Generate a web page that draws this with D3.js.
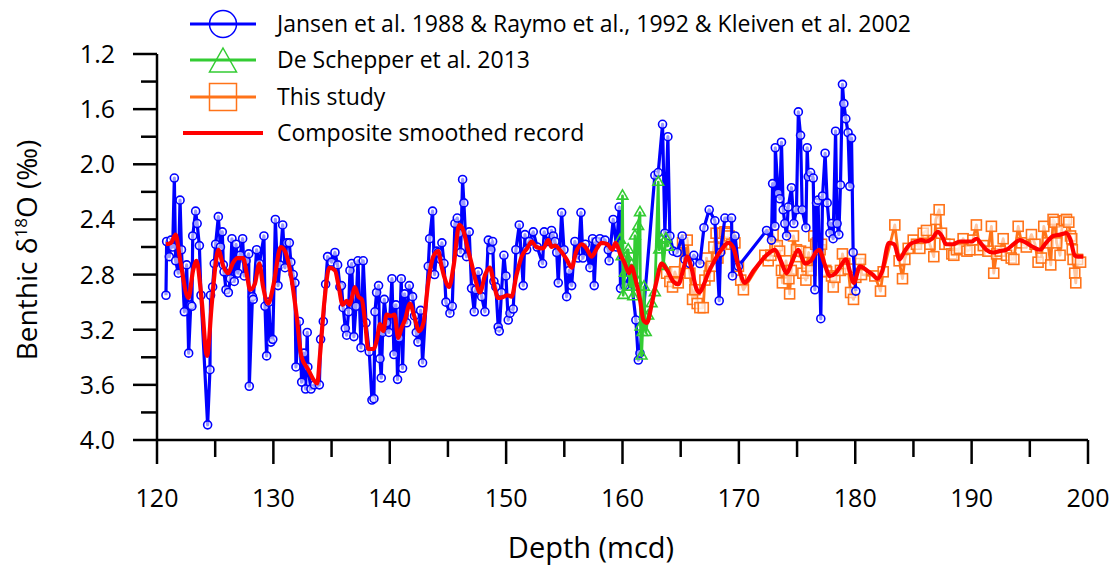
<!DOCTYPE html>
<html>
<head>
<meta charset="utf-8">
<script src="https://cdn.jsdelivr.net/npm/d3@7"></script>
<style>
  html, body { margin: 0; padding: 0; background: #fff; }
  svg { display: block; font-family: "Open Sans", sans-serif; }
</style>
</head>
<body>
<svg id="chart" width="1115" height="575"></svg>
<script>
// ---------- DATA ----------
const seriesNames = [
  "Jansen et al. 1988 & Raymo et al., 1992 & Kleiven et al. 2002",
  "De Schepper et al. 2013",
  "This study",
  "Composite smoothed record"
];
const xTicks = [120, 130, 140, 150, 160, 170, 180, 190, 200];
const yTicks = [1.2, 1.6, 2.0, 2.4, 2.8, 3.2, 3.6, 4.0];

// Jansen / Raymo / Kleiven: [depth, d18O]
const blueDepth = [120.77,120.83,121.06,121.2,121.35,121.49,121.6,121.83,121.98,122.1,122.35,122.55,122.72,122.9,123.0,123.07,123.32,123.45,123.64,123.78,124.35,124.55,124.6,124.78,124.92,125.04,125.27,125.45,125.61,125.7,125.76,125.93,126.13,126.3,126.44,126.64,126.79,126.96,127.15,127.36,127.5,127.65,127.88,127.93,128.2,128.27,128.56,128.8,129.19,129.28,129.42,129.6,129.79,129.95,130.17,130.4,130.55,130.8,131.0,131.14,131.37,131.5,131.7,131.85,131.94,132.23,132.43,132.63,132.77,132.91,132.96,133.23,133.52,133.95,134.06,134.29,134.49,134.66,135.0,135.29,135.52,135.72,135.85,136.0,136.18,136.3,136.46,136.58,136.73,136.92,137.1,137.27,137.53,137.72,137.96,138.24,138.47,138.64,138.73,138.87,139.04,139.16,139.27,139.39,139.53,139.73,139.93,140.19,140.36,140.53,140.67,140.82,140.99,141.1,141.28,141.45,141.68,141.96,142.13,142.28,142.42,142.65,142.82,143.31,143.43,143.68,143.85,144.03,144.17,144.37,144.48,144.66,144.83,145.17,145.37,145.6,145.8,145.95,146.09,146.26,146.37,146.6,146.83,147.03,147.26,147.4,147.6,147.9,148.18,148.47,148.69,148.84,148.95,149.12,149.32,149.41,149.6,149.81,149.98,150.18,150.33,150.61,150.84,151.13,151.47,151.62,151.76,151.99,152.33,152.67,153.13,153.27,153.53,153.7,153.9,154.05,154.2,154.35,154.48,154.77,154.97,155.2,155.42,155.63,155.91,156.2,156.43,156.6,156.8,157.2,157.43,157.57,157.75,158.06,158.5,158.78,158.85,159.2,159.49,159.72,159.83,160.2,160.7,161.15,161.36,161.5,162.78,163.07,163.44,163.64,163.9,164.07,164.36,164.7,165.13,165.36,165.79,166.13,166.65,167.0,167.45,167.94,168.31,168.42,168.8,169.37,169.45,169.67,169.96,172.38,172.8,172.9,173.1,173.13,173.38,173.52,173.66,173.81,173.95,174.1,174.24,174.52,174.72,174.95,175.11,175.3,175.44,175.76,175.87,175.96,176.16,176.39,176.53,176.67,176.8,177.04,177.19,177.41,177.59,177.82,177.96,178.1,178.31,178.44,178.59,178.73,178.9,179.02,179.19,179.38,179.53,179.68,179.82,180.05];
const blueValue = [2.95,2.56,2.67,2.55,2.60,2.10,2.70,2.79,2.26,2.62,3.07,2.73,3.37,3.02,3.03,2.52,2.34,2.43,2.59,2.95,3.89,3.49,2.95,2.89,2.72,2.58,2.38,2.60,2.49,2.73,2.78,2.91,2.93,2.83,2.54,2.85,2.58,2.79,2.66,2.54,2.81,2.70,2.65,3.61,2.96,2.98,2.62,2.72,2.52,3.03,3.39,3.00,3.29,3.27,2.40,2.88,2.73,2.44,2.75,2.57,2.57,2.71,2.80,2.86,3.47,3.14,3.58,3.37,3.63,3.22,3.47,3.63,3.60,3.60,3.27,3.14,2.87,2.67,2.71,2.64,2.73,2.89,2.88,3.04,3.19,3.24,3.07,2.77,2.72,3.25,3.03,2.70,3.33,2.70,3.15,3.36,3.71,3.70,3.07,2.93,2.88,3.41,3.55,3.22,2.98,3.15,3.22,2.83,3.38,3.02,3.56,3.26,2.83,3.48,2.94,3.15,2.88,2.96,3.10,3.22,3.29,3.06,3.44,2.74,2.54,2.34,2.80,2.63,2.64,2.69,2.57,2.72,3.00,3.08,3.03,2.43,2.39,2.50,2.64,2.11,2.28,2.67,2.49,2.90,3.07,2.91,2.78,2.96,3.07,2.55,2.62,2.56,2.85,2.89,3.18,3.21,2.93,2.66,2.81,3.13,3.08,3.05,2.62,2.44,2.88,2.51,2.62,2.56,2.49,2.60,2.72,2.49,2.56,2.56,2.48,2.52,2.56,2.64,2.86,2.35,2.62,2.96,2.77,2.88,2.56,2.68,2.35,2.68,2.58,2.75,2.54,2.88,2.56,2.54,2.55,2.62,2.70,2.40,2.60,2.31,2.90,2.88,2.80,3.13,3.42,3.37,2.08,2.06,1.71,2.50,1.80,2.52,2.63,2.64,2.52,2.69,2.72,2.66,2.72,2.46,2.33,2.41,2.99,2.64,2.39,2.39,2.81,2.52,2.74,2.48,2.55,2.14,2.45,1.88,2.21,2.25,1.84,2.33,2.43,2.52,2.31,2.17,2.43,2.33,1.62,1.79,2.33,2.46,1.88,2.09,2.06,2.10,2.91,2.28,2.26,3.12,2.23,1.92,2.28,2.50,2.43,2.54,1.76,2.43,2.51,2.15,1.42,1.56,1.67,1.77,2.16,1.81,2.64,2.92];

// De Schepper et al. 2013
const greenDepth = [159.79,159.92,160.0,160.06,160.2,160.35,160.49,160.64,160.78,160.92,161.07,161.21,161.35,161.5,161.55,161.64,161.72,161.84,161.92,162.0,162.21,162.5,162.78,163.07,163.15,163.36,163.5,163.73,163.93];
const greenValue = [2.55,2.67,2.23,2.95,2.79,2.67,2.62,2.89,2.73,2.96,2.52,2.84,2.45,2.35,3.18,3.39,3.22,2.89,3.10,3.22,3.10,3.01,2.93,2.13,2.62,2.55,2.74,2.54,2.60];

// This study
const orangeDepth = [163.79,164.07,164.3,164.5,164.79,165.16,165.36,165.56,165.79,166.02,166.22,166.42,166.65,166.94,167.08,167.22,167.45,167.65,167.85,168.04,168.2,168.37,168.6,168.8,168.97,169.17,169.37,169.66,169.96,170.16,170.39,172.23,172.52,172.75,172.94,173.1,173.3,173.5,173.66,173.74,173.95,174.05,174.3,174.36,174.5,174.69,174.95,175.18,175.3,175.5,175.76,175.85,176.0,176.2,176.44,176.6,176.75,176.98,177.1,177.47,177.54,177.96,178.11,178.25,178.73,178.9,179.1,179.4,179.6,179.85,180.05,180.33,180.45,180.54,181.68,182.17,182.4,183.4,183.77,184.06,184.26,184.55,184.98,185.26,185.55,185.84,186.12,186.41,186.75,186.92,187.21,187.41,187.7,188.07,188.3,188.47,188.7,188.95,189.27,189.6,189.84,190.1,190.41,190.7,191.0,191.4,191.7,191.9,192.15,192.45,192.71,193.0,193.4,193.63,194.0,194.3,194.7,195.14,195.45,195.71,196.0,196.2,196.55,196.8,197.0,197.15,197.3,197.6,197.75,197.95,198.15,198.35,198.5,198.6,198.65,198.72,198.86,198.95,199.1,199.36];
const orangeValue = [2.79,2.85,2.89,2.78,2.86,2.57,2.72,2.55,2.79,2.98,2.91,3.01,3.04,3.04,2.84,2.68,2.81,2.74,2.60,2.50,2.68,2.61,2.50,2.49,2.50,2.52,2.58,2.57,2.74,2.84,2.91,2.66,2.70,2.66,2.51,2.60,2.59,2.63,2.77,2.86,2.77,2.70,2.83,2.94,2.77,2.52,2.62,2.67,2.63,2.79,2.84,2.74,2.64,2.77,2.52,2.58,2.57,2.62,2.58,2.77,2.78,2.81,2.89,2.82,2.77,2.65,2.72,2.76,2.93,2.98,2.82,2.72,2.69,2.80,2.81,2.92,2.78,2.44,2.70,2.83,2.69,2.61,2.55,2.58,2.61,2.50,2.48,2.58,2.67,2.40,2.33,2.50,2.58,2.58,2.65,2.66,2.62,2.61,2.54,2.63,2.62,2.55,2.44,2.62,2.59,2.63,2.45,2.79,2.65,2.63,2.54,2.66,2.68,2.69,2.45,2.57,2.60,2.51,2.58,2.71,2.68,2.45,2.57,2.73,2.40,2.42,2.57,2.66,2.47,2.41,2.40,2.42,2.52,2.54,2.62,2.69,2.79,2.86,2.69,2.71];

// Composite smoothed record
const redDepth = [120.77,121.2,121.6,122.0,122.7,123.1,123.4,123.8,124.3,124.7,125.0,125.27,125.7,126.1,126.5,126.9,127.4,127.7,128.0,128.4,128.8,129.1,129.56,130.0,130.63,131.0,131.5,132.0,132.4,133.0,133.43,133.77,134.0,134.4,134.8,135.3,135.6,135.95,136.3,136.55,136.8,137.0,137.3,137.6,137.9,138.15,138.6,138.9,139.16,139.45,139.73,140.1,140.4,140.73,141.0,141.3,141.74,142.1,142.53,142.9,143.3,143.74,144.17,144.4,144.7,145.1,145.5,145.97,146.32,146.7,147.03,147.4,147.75,148.2,148.6,149.0,149.32,149.8,150.1,150.46,150.9,151.33,151.8,152.19,152.6,153.19,153.62,153.9,154.2,154.7,155.2,155.63,156.0,156.49,156.9,157.35,157.8,158.2,158.7,159.13,159.4,159.8,160.2,160.57,160.77,161.1,161.5,161.8,162.1,162.5,162.92,163.36,163.85,164.36,164.8,165.2,165.56,165.95,166.3,166.6,167.0,167.36,167.9,168.5,169.1,169.5,169.96,170.5,171.2,171.94,172.5,173.1,173.6,174.1,174.6,175.1,175.67,176.2,176.6,176.9,177.35,177.82,178.3,178.73,179.2,179.55,179.88,180.4,181.0,181.5,181.9,182.3,182.9,183.35,183.8,184.25,184.7,185.27,185.7,186.1,186.6,187.1,187.5,187.8,188.4,188.98,189.6,190.0,190.41,190.85,191.27,191.84,192.4,192.99,193.6,194.14,194.7,195.28,195.86,196.4,197.0,197.6,198.14,198.5,198.86,199.15,199.6];
const redValue = [2.58,2.57,2.51,2.70,2.97,2.77,2.70,2.95,3.39,3.02,2.75,2.62,2.74,2.79,2.72,2.68,2.68,2.79,2.91,2.87,2.72,2.88,3.01,2.88,2.60,2.63,2.80,3.10,3.39,3.49,3.56,3.59,3.39,2.98,2.75,2.77,2.88,3.02,2.99,3.02,2.95,2.89,2.96,2.98,3.16,3.34,3.34,3.27,3.16,3.21,3.09,3.10,3.09,3.26,3.19,3.13,3.01,3.10,3.21,3.15,2.86,2.67,2.63,2.72,2.82,2.89,2.73,2.44,2.48,2.61,2.72,2.85,2.93,2.80,2.75,2.89,2.97,2.96,2.95,2.96,2.80,2.67,2.61,2.56,2.60,2.61,2.55,2.60,2.59,2.63,2.69,2.75,2.64,2.58,2.61,2.67,2.61,2.57,2.58,2.62,2.57,2.65,2.72,2.79,2.74,2.83,2.98,3.13,3.15,3.02,2.85,2.72,2.77,2.85,2.87,2.77,2.67,2.76,2.89,2.93,2.87,2.79,2.70,2.62,2.57,2.60,2.74,2.86,2.78,2.70,2.65,2.62,2.70,2.79,2.70,2.62,2.72,2.70,2.64,2.62,2.72,2.81,2.79,2.74,2.69,2.78,2.86,2.74,2.77,2.80,2.83,2.78,2.57,2.58,2.69,2.63,2.58,2.56,2.55,2.56,2.54,2.49,2.53,2.58,2.58,2.56,2.56,2.56,2.54,2.58,2.62,2.64,2.63,2.62,2.58,2.55,2.57,2.60,2.62,2.57,2.52,2.51,2.50,2.55,2.66,2.67,2.67];

// ---------- CHART ----------
const svg = d3.select("#chart");
const x = d3.scaleLinear().domain([120, 200]).range([157, 1088]);
const y = d3.scaleLinear().domain([1.2, 4.0]).range([54, 440]);

const blue = "#0000ff", green = "#33cc33", orange = "#ff7319", red = "#ff0000";

const zip = (a, b) => a.map((d, i) => [d, b[i]]);
const blueData = zip(blueDepth, blueValue);
const greenData = zip(greenDepth, greenValue);
const orangeData = zip(orangeDepth, orangeValue);
const redData = zip(redDepth, redValue);

const line = d3.line().x(d => x(d[0])).y(d => y(d[1]));
const smooth = d3.line().x(d => x(d[0])).y(d => y(d[1])).curve(d3.curveMonotoneX);

const plot = svg.append("g");

// orange
plot.append("path").datum(orangeData).attr("d", line)
  .attr("fill", "none").attr("stroke", orange).attr("stroke-width", 2.8).attr("stroke-linejoin", "round");
plot.append("g").selectAll("rect").data(orangeData).join("rect")
  .attr("x", d => x(d[0]) - 5).attr("y", d => y(d[1]) - 5)
  .attr("width", 10).attr("height", 10)
  .attr("fill", "#fff").attr("fill-opacity", 0.6).attr("stroke", orange).attr("stroke-width", 1.6);

// blue
plot.append("path").datum(blueData).attr("d", line)
  .attr("fill", "none").attr("stroke", blue).attr("stroke-width", 3.2).attr("stroke-linejoin", "round");
plot.append("g").selectAll("circle").data(blueData).join("circle")
  .attr("cx", d => x(d[0])).attr("cy", d => y(d[1])).attr("r", 4)
  .attr("fill", "#fff").attr("fill-opacity", 0.6).attr("stroke", blue).attr("stroke-width", 1.6);

// green
const tri = d3.symbol().type(d3.symbolTriangle).size(50);
plot.append("path").datum(greenData).attr("d", line)
  .attr("fill", "none").attr("stroke", green).attr("stroke-width", 2.8).attr("stroke-linejoin", "round");
plot.append("g").selectAll("path").data(greenData).join("path")
  .attr("transform", d => `translate(${x(d[0])},${y(d[1])})`)
  .attr("d", tri).attr("fill", "none").attr("stroke", green).attr("stroke-width", 1.6);

// red smoothed
plot.append("path").datum(redData).attr("d", smooth)
  .attr("fill", "none").attr("stroke", red).attr("stroke-width", 4.2).attr("stroke-linejoin", "round");

// ---------- AXES ----------
const axisColor = "#000";
const xMinor = d3.range(125, 200, 10);
const ax = svg.append("g").attr("stroke", axisColor).attr("stroke-width", 2.5);
ax.append("line").attr("x1", x(120)).attr("x2", x(200)).attr("y1", 440).attr("y2", 440);
ax.append("line").attr("x1", x(120)).attr("x2", x(120)).attr("y1", y(1.2)).attr("y2", 440);
ax.selectAll(".xt").data(xTicks).join("line")
  .attr("x1", d => x(d)).attr("x2", d => x(d)).attr("y1", 440).attr("y2", 464);
ax.selectAll(".xm").data(xMinor).join("line")
  .attr("x1", d => x(d)).attr("x2", d => x(d)).attr("y1", 440).attr("y2", 457);
const yMinor = d3.range(1.4, 4.0, 0.4);
ax.selectAll(".yt").data(yTicks).join("line")
  .attr("x1", x(120) - 24).attr("x2", x(120)).attr("y1", d => y(d)).attr("y2", d => y(d));
ax.selectAll(".ym").data(yMinor).join("line")
  .attr("x1", x(120) - 16).attr("x2", x(120)).attr("y1", d => y(d)).attr("y2", d => y(d));

svg.append("g").selectAll("text").data(xTicks).join("text")
  .attr("x", d => x(d)).attr("y", 507).attr("text-anchor", "middle")
  .attr("font-size", 25).attr("fill", "#000").text(d => d);
svg.append("g").selectAll("text").data(yTicks).join("text")
  .attr("x", 115).attr("y", d => y(d) + 9).attr("text-anchor", "end")
  .attr("font-size", 25).attr("fill", "#000").text(d => d.toFixed(1));

svg.append("text").attr("x", 591).attr("y", 558).attr("text-anchor", "middle")
  .attr("font-size", 29).attr("fill", "#000").text("Depth (mcd)");
const yt = svg.append("text").attr("transform", "translate(37,250) rotate(-90)")
  .attr("text-anchor", "middle").attr("font-size", 28).attr("fill", "#000");
yt.append("tspan").text("Benthic δ");
yt.append("tspan").attr("font-size", 17).attr("dy", -10).text("18");
yt.append("tspan").attr("dy", 10).text("O (‰)");

// ---------- LEGEND ----------
const lg = svg.append("g");
const legY = [24, 60, 97, 133];
const legColors = [blue, green, orange, red];
seriesNames.forEach((name, i) => {
  const yy = legY[i];
  if (i < 3) {
    lg.append("line").attr("x1", 190).attr("x2", 256).attr("y1", yy).attr("y2", yy)
      .attr("stroke", legColors[i]).attr("stroke-width", 3);
  } else {
    lg.append("line").attr("x1", 183).attr("x2", 263).attr("y1", yy).attr("y2", yy)
      .attr("stroke", red).attr("stroke-width", 4);
  }
  if (i === 0) {
    lg.append("circle").attr("cx", 223).attr("cy", yy).attr("r", 13.5)
      .attr("fill", "none").attr("stroke", blue).attr("stroke-width", 1.5);
  } else if (i === 1) {
    lg.append("path").attr("d", "M223,48 L236.5,72 L209.5,72 Z")
      .attr("fill", "none").attr("stroke", green).attr("stroke-width", 1.5);
  } else if (i === 2) {
    lg.append("rect").attr("x", 209.5).attr("y", 83.5).attr("width", 27).attr("height", 27)
      .attr("fill", "none").attr("stroke", orange).attr("stroke-width", 1.5);
  }
  lg.append("text").attr("x", 277).attr("y", yy + 8).attr("font-size", 23)
    .attr("fill", "#000").text(name);
});
</script>
</body>
</html>
